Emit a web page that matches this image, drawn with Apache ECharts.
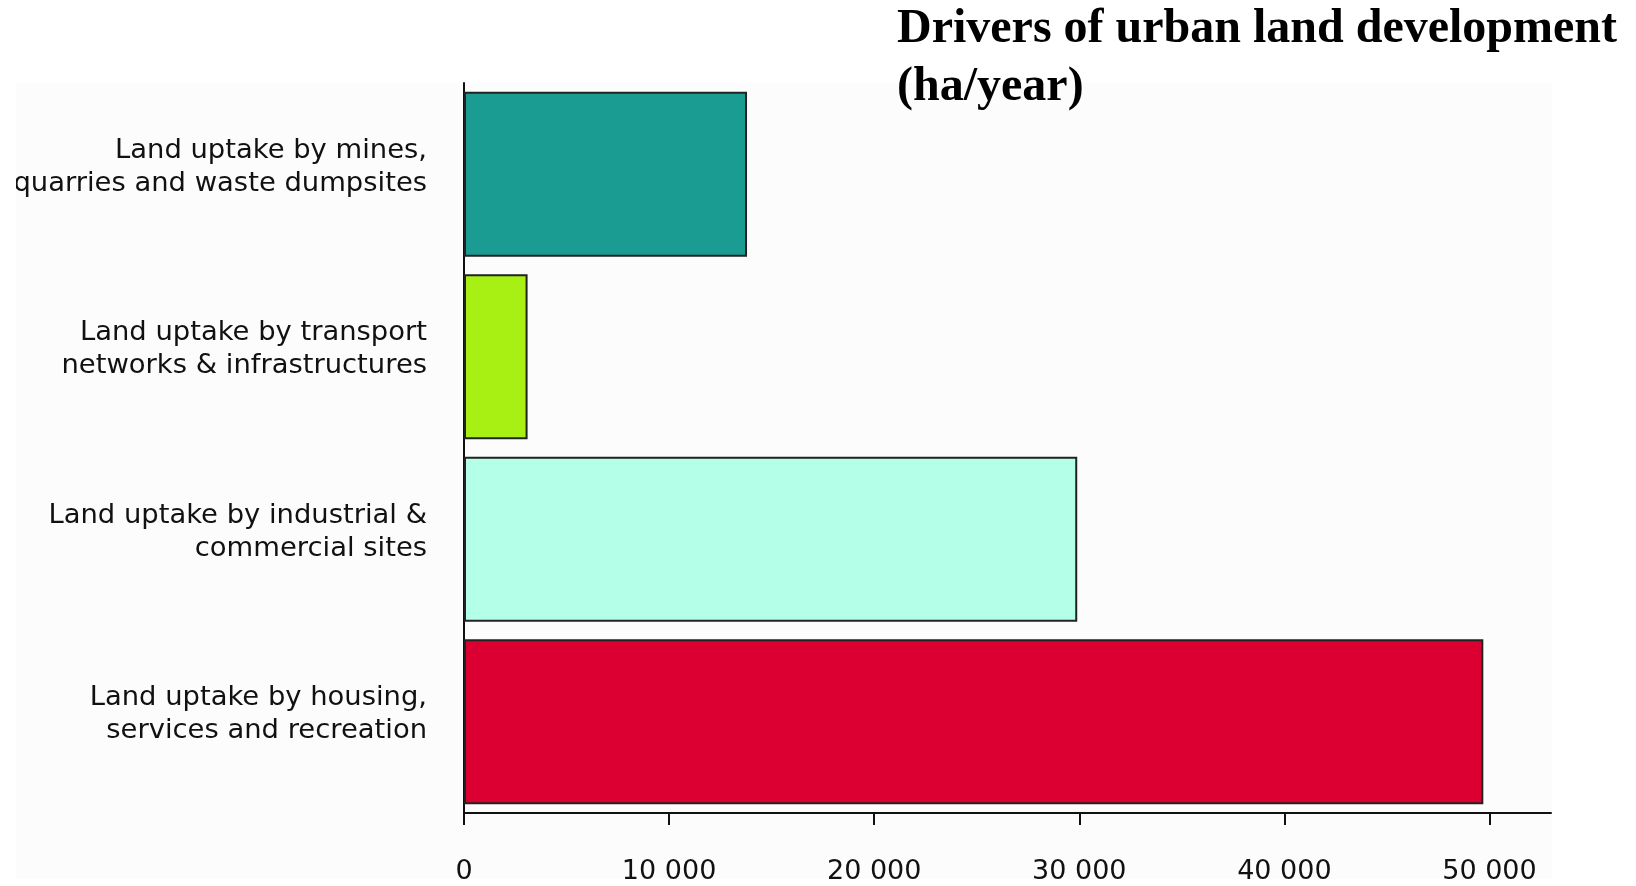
<!DOCTYPE html>
<html>
<head>
<meta charset="utf-8">
<style>
  html, body { margin: 0; padding: 0; background: #ffffff; }
  #chart { width: 1636px; height: 886px; }
</style>
<script src="https://cdn.jsdelivr.net/npm/echarts@6/dist/echarts.min.js"></script>
</head>
<body>
<div id="chart"></div>
<script>
// Land uptake categories, top to bottom
const categories = [
  'Land uptake by mines,\nquarries and waste dumpsites',
  'Land uptake by transport\nnetworks & infrastructures',
  'Land uptake by industrial &\ncommercial sites',
  'Land uptake by housing,\nservices and recreation'
];
// Hectares per year for each driver
const values = [13800, 3100, 29900, 49700];
const barColors = ['#1a9c92', '#a8f014', '#b3ffe8', '#dc0032'];
const tickValues = [0, 10000, 20000, 30000, 40000, 50000];
const titleLines = ['Drivers of urban land development', '(ha/year)'];

const fmt = v => v === 0 ? '0' : String(v).replace(/\B(?=(\d{3})+(?!\d))/g, ' ');
// category label: two text lines plus a short spacer line that lifts the block a little
const catFmt = v => v.split('\n').map(s => '{t|' + s + '}').join('\n') + '\n{s| }';

const chart = echarts.init(document.getElementById('chart'), null, { renderer: 'canvas' });
chart.setOption({
  animation: false,
  backgroundColor: '#ffffff',
  title: {
    text: titleLines.join('\n'),
    left: 897,
    top: 1,
    padding: 0,
    textStyle: {
      fontFamily: 'Liberation Serif',
      fontWeight: 'bold',
      fontSize: 48,
      lineHeight: 58,
      color: '#000000'
    }
  },
  graphic: [
    // light panel behind the plot
    { type: 'rect', z: -10, silent: true,
      shape: { x: 16, y: 83, width: 1536, height: 796 },
      style: { fill: '#fcfcfc' } },
    // panel edges clip the overflowing labels
    { type: 'rect', z: 100, silent: true,
      shape: { x: 0, y: 83, width: 16, height: 803 },
      style: { fill: '#ffffff' } },
    { type: 'rect', z: 100, silent: true,
      shape: { x: 0, y: 879, width: 1636, height: 7 },
      style: { fill: '#ffffff' } }
  ],
  grid: { left: 464, top: 83, width: 1087, height: 730, containLabel: false },
  xAxis: {
    type: 'value',
    min: 0,
    max: 53000,
    interval: 10000,
    splitLine: { show: false },
    axisLine: { show: true, lineStyle: { color: '#111111', width: 2 } },
    axisTick: { show: true, length: 12, customValues: tickValues,
      lineStyle: { color: '#111111', width: 2 } },
    axisLabel: {
      customValues: tickValues,
      margin: 45,
      fontFamily: 'DejaVu Sans',
      fontSize: 27,
      color: '#111111',
      formatter: fmt
    }
  },
  yAxis: {
    type: 'category',
    inverse: true,
    data: categories,
    axisLine: { show: true, lineStyle: { color: '#111111', width: 2 } },
    axisTick: { show: false },
    axisLabel: {
      margin: 37,
      align: 'right',
      formatter: catFmt,
      rich: {
        t: { fontFamily: 'DejaVu Sans', fontSize: 27.4, lineHeight: 33, color: '#111111', align: 'right' },
        s: { fontSize: 10, lineHeight: 14 }
      }
    }
  },
  series: [{
    type: 'bar',
    barWidth: 165,
    data: values.map((v, i) => ({
      value: v,
      itemStyle: { color: barColors[i] }
    })),
    itemStyle: { borderColor: '#222222', borderWidth: 2 }
  }]
});
</script>
</body>
</html>
